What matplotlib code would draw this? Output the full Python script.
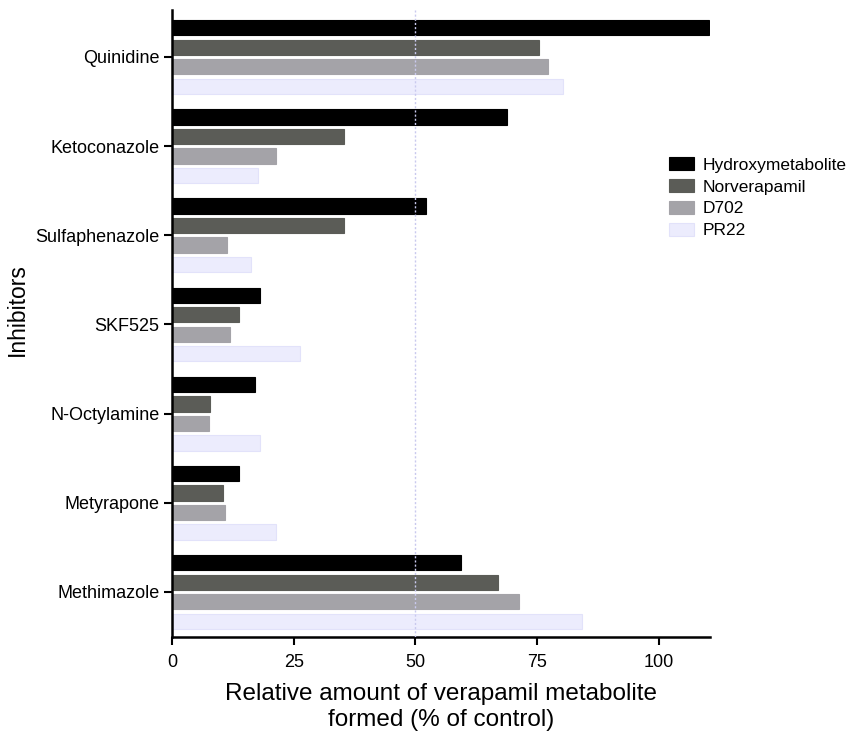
import matplotlib
matplotlib.use("Agg")
import matplotlib.pyplot as plt
import numpy as np

plt.rcParams['font.family'] = ['Liberation Sans', 'DejaVu Sans']

inhibitors = ["Quinidine", "Ketoconazole", "Sulfaphenazole", "SKF525",
              "N-Octylamine", "Metyrapone", "Methimazole"]
series_names = ["Hydroxymetabolite", "Norverapamil", "D702", "PR22"]
hydroxymetabolite = [110.2, 68.8, 52.2, 18.1, 17.0, 13.7, 59.4]
norverapamil = [75.3, 35.3, 35.3, 13.8, 7.8, 10.4, 66.9]
d702 = [77.3, 21.3, 11.3, 11.9, 7.6, 10.8, 71.3]
pr22 = [80.3, 17.7, 16.2, 26.3, 18.1, 21.3, 84.3]
series_values = [hydroxymetabolite, norverapamil, d702, pr22]
xticks = [0, 25, 50, 75, 100]

face_colors = ["#000000", "#5b5c57", "#a4a3a8", "#ececfd"]
edge_colors = ["#000000", "#5b5c57", "#a4a3a8", "#e2e2fa"]

fig = plt.figure(figsize=(8.48, 7.37), dpi=100)
ax = fig.add_axes([172/848, 1-637/737, (710-172)/848, (637-10)/737])

y = np.arange(len(inhibitors))
step = 0.219
height = 0.172
for i, (name, vals) in enumerate(zip(series_names, series_values)):
    ax.barh(y + (i - 1.5) * step, vals, height=height, color=face_colors[i],
            edgecolor=edge_colors[i], linewidth=0.8, label=name, zorder=2)

ax.axvline(50, color="#c9c9ee", linestyle=(0, (1.5, 1.5)), linewidth=1.0, zorder=3)

ax.set_xlim(0, 110.5)
ax.set_ylim(6.505, -0.527)
ax.set_yticks(y)
ax.set_yticklabels(inhibitors, fontsize=13)
ax.set_xticks(xticks)
ax.set_xticklabels([str(t) for t in xticks], fontsize=13)
ax.tick_params(axis='both', direction='out', length=6, width=1.5, color='black', pad=3)
ax.tick_params(axis='x', pad=6)
for s in ['top', 'right']:
    ax.spines[s].set_visible(False)
for s in ['left', 'bottom']:
    ax.spines[s].set_linewidth(1.8)

ax.set_xlabel("Relative amount of verapamil metabolite\nformed (% of control)",
              fontsize=17.5, labelpad=9, linespacing=1.25)
ax.set_ylabel("Inhibitors", fontsize=16.5)
ax.yaxis.set_label_coords(-(172-29)/538, (637-310)/627)

leg = fig.legend(loc='upper left', bbox_to_anchor=(662/848, 1-150/737), frameon=False,
                 fontsize=12.5, handlelength=1.45, handleheight=0.8,
                 handletextpad=0.5, labelspacing=0.36, borderaxespad=0)

fig.savefig("out.png", dpi=100)
